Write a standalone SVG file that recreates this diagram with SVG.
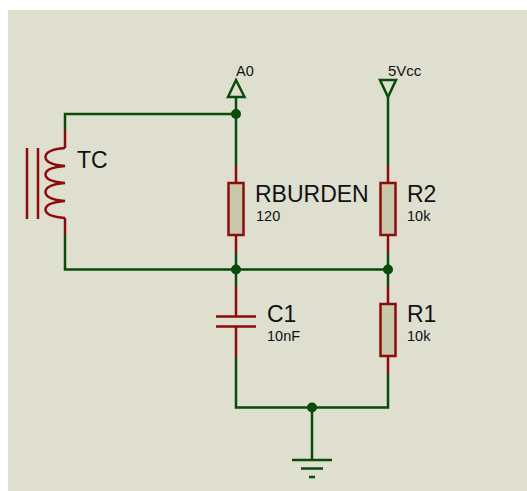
<svg xmlns="http://www.w3.org/2000/svg" width="527" height="491" viewBox="0 0 527 491">
<style>
.w{fill:none;stroke:#0a4a0a;stroke-width:2.500}
.t{fill:none;stroke:#0a4a0a;stroke-width:2.500}
.r{fill:none;stroke:#8a0c0c;stroke-width:2.500}
.b{fill:#c8c9ab;stroke:#8a0c0c;stroke-width:2.500}
.j{fill:#0a4a0a}
text{font-family:"Liberation Sans",Arial,sans-serif;fill:#111}
.l{font-size:23px}
.s{font-size:14.500px}
</style>
<rect x="8" y="10" width="519" height="481" fill="#dfdfd0"/>
<g id="connectors">
<path class="w" d="M65 130V114H236V166M236 97V114M65 235V269.500H388M236 253V286M388 253V286M388 97V166M236 357V407.500H388V374M312 407.500V460"/>
</g>
<g id="TC">
<path class="r" d="M65 130V148M65 218V235M27 148V219M38 148V219"/>
<path class="r" stroke-width="2.200" d="M65 148C53 149 45.500 152 45.500 157C45.500 162 53 165 65 166C53 167 45.500 170 45.500 174.500C45.500 179 53 182 65 183C53 184 45.500 187 45.500 192C45.500 197 53 200 65 201C53 202 45.500 205 45.500 209.500C45.500 214 53 217 65 218"/>
<text class="l" x="77" y="168">TC</text>
</g>
<g id="RBURDEN">
<path class="r" d="M236 166V183M236 235V253"/>
<rect class="b" x="228.500" y="183" width="15" height="52"/>
<text class="l" x="255" y="202">RBURDEN</text>
<text class="s" x="256" y="221">120</text>
</g>
<g id="R2">
<path class="r" d="M388 166V183M388 235V253"/>
<rect class="b" x="380.500" y="183" width="15" height="52"/>
<text class="l" x="407" y="202">R2</text>
<text class="s" x="407" y="221">10k</text>
</g>
<g id="C1">
<path class="r" d="M236 286V316.500M236 327V357M216 316.500H256M216 326.500H256"/>
<text class="l" x="267" y="322">C1</text>
<text class="s" x="267" y="341">10nF</text>
</g>
<g id="R1">
<path class="r" d="M388 286V304M388 356V374"/>
<rect class="b" x="380.500" y="304" width="15" height="52"/>
<text class="l" x="407" y="322">R1</text>
<text class="s" x="407" y="341">10k</text>
</g>
<g id="A0">
<path class="t" d="M236 80L244.500 97H228Z"/>
<text class="s" x="236" y="76">A0</text>
</g>
<g id="Vcc">
<path class="t" d="M380 80H396L388 97Z"/>
<text x="388" y="76" font-size="15">5Vcc</text>
</g>
<g id="GND">
<path class="t" d="M292 460H332M301 468.500H323M309 477H315"/>
</g>
<g id="junctions">
<circle class="j" cx="236" cy="114" r="5"/>
<circle class="j" cx="236" cy="269.500" r="5"/>
<circle class="j" cx="388" cy="269.500" r="5"/>
<circle class="j" cx="312" cy="407.500" r="5"/>
</g>
</svg>
